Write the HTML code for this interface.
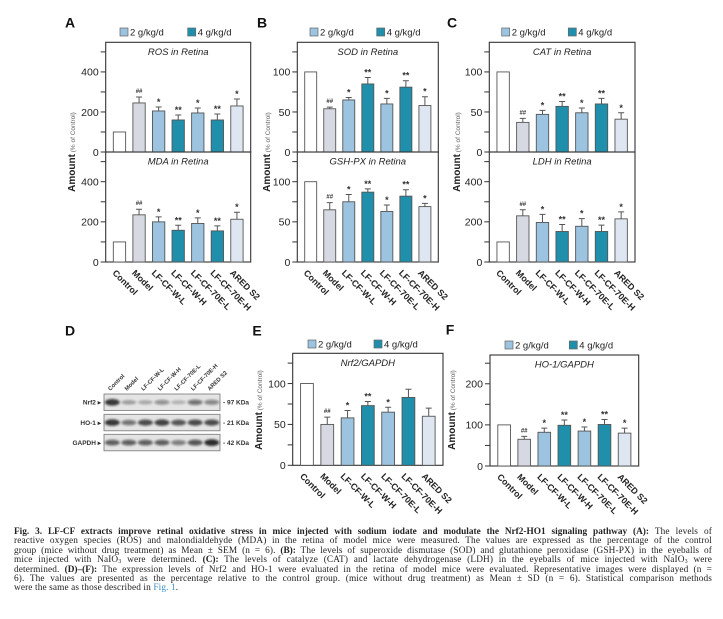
<!DOCTYPE html>
<html><head><meta charset="utf-8">
<style>
html,body{margin:0;padding:0;background:#fff;}
body{width:723px;height:619px;position:relative;overflow:hidden;font-family:"Liberation Sans",sans-serif;}
#cap{position:absolute;left:14px;top:528px;width:698px;font-family:"Liberation Serif",serif;font-size:9.3px;line-height:9.4px;letter-spacing:0.12px;color:#222;}
#cap div{text-align:justify;text-align-last:justify;white-space:nowrap;overflow:visible;}
#cap div.last{text-align-last:left;}
#cap b{font-weight:bold;letter-spacing:0;}
#cap sub{font-size:6px;line-height:0;vertical-align:-1px;}
.lnk{color:#3a8fc8;}
</style></head>
<body>
<svg id="fig" width="723" height="530" style="position:absolute;left:0;top:0" xmlns="http://www.w3.org/2000/svg">
<defs><filter id="blur" x="-30%" y="-100%" width="160%" height="300%"><feGaussianBlur stdDeviation="1.1"/></filter></defs>
</svg>
<div id="cap">
<div><b>Fig. 3. LF-CF extracts improve retinal oxidative stress in mice injected with sodium iodate and modulate the Nrf2-HO1 signaling pathway (A):</b> The levels of</div>
<div>reactive oxygen species (ROS) and malondialdehyde (MDA) in the retina of model mice were measured. The values are expressed as the percentage of the control</div>
<div>group (mice without drug treatment) as Mean ± SEM (n = 6). <b>(B):</b> The levels of superoxide dismutase (SOD) and glutathione peroxidase (GSH-PX) in the eyeballs of</div>
<div>mice injected with NaIO<sub>3</sub> were determined. <b>(C):</b> The levels of catalyze (CAT) and lactate dehydrogenase (LDH) in the eyeballs of mice injected with NaIO<sub>3</sub> were</div>
<div>determined. <b>(D)–(F):</b> The expression levels of Nrf2 and HO-1 were evaluated in the retina of model mice were evaluated. Representative images were displayed (n =</div>
<div>6). The values are presented as the percentage relative to the control group. (mice without drug treatment) as Mean ± SD (n = 6). Statistical comparison methods</div>
<div class="last">were the same as those described in <span class="lnk">Fig. 1</span>.</div>
</div>
<script>
const categories = ["Control","Model","LF-CF-W-L","LF-CF-W-H","LF-CF-70E-L","LF-CF-70E-H","ARED S2"];
const rosValues = [100,245,205,160,195,160,230];
const rosErrors = [0,30,20,25,25,30,35];
const mdaValues = [100,235,200,158,192,155,213];
const mdaErrors = [0,28,25,25,28,25,35];
const sodValues = [100,54,65,85,60,81,58];
const sodErrors = [0,2,3,8,7,8,11];
const gshValues = [100,65,75,87,63,82,69];
const gshErrors = [0,9,9,4,8,8,4];
const catValues = [100,37,47,57,49,60,41];
const catErrors = [0,5,5,6,6,7,8];
const ldhValues = [100,230,197,152,178,152,215];
const ldhErrors = [0,30,40,35,38,32,35];
const nrf2Values = [100,50,58,73,65,83,60];
const nrf2Errors = [0,9,9,5,6,10,10];
const ho1Values = [100,65,82,99,85,101,80];
const ho1Errors = [0,7,10,13,10,12,12];
const signsStd = ["","##","*","**","*","**","*"];
const signsNrf2 = ["","##","*","**","*","",""];
const ticksBig = [0,200,400];
const ticksSmall = [0,50,100];
const ticksHO = [0,100,200];
const nrf2Bands = [0.9,0.35,0.3,0.45,0.25,0.6,0.5];
const ho1Bands = [0.9,0.6,0.8,0.85,0.75,0.8,0.8];
const gapdhBands = [0.7,0.7,0.7,0.7,0.55,0.75,0.95];

const NS="http://www.w3.org/2000/svg";
const svg=document.getElementById('fig');
const fills=["#ffffff","#d6d9e2","#9cc3df","#1f8fab","#9cc3df","#1f8fab","#dde6f1"];
function mk(tag,attrs,parent){const e=document.createElementNS(NS,tag);for(const k in attrs)e.setAttribute(k,attrs[k]);(parent||svg).appendChild(e);return e;}
function txt(x,y,s,attrs,parent){const t=mk('text',Object.assign({x:x,y:y,'font-family':'Liberation Sans, sans-serif'},attrs),parent);t.textContent=s;return t;}

function panel(o){
  const g=mk('g',{});
  
  
  const w=o.x1-o.x0;
  const ys=v=>o.zero-(v/o.max)*(o.zero-o.top);
  const pad=0.095*w, step=(w-2*pad)/6, bw=0.085*w;
  const xc=i=>o.x0+pad+i*step;
  const box=mk('rect',{x:o.x0,y:o.top,width:w,height:o.zero-o.top,fill:'none',stroke:'#333','stroke-width':1.1},g);
  
  
  for(let v=0;v<=o.max;v+=o.minor){
    const tk=mk('line',{x1:o.x0-5,x2:o.x0,y1:ys(v),y2:ys(v),stroke:'#333','stroke-width':1},g);
    
    
  }
  o.ticks.forEach(v=>{
    const t=txt(o.x0-7,ys(v)+3.8,String(v),{'font-size':10.5,'text-anchor':'end',fill:'#222'},g);
    
    
  });
  const ti=txt((o.x0+o.x1)/2,o.top+12.5,o.title,{'font-size':9.5,'font-style':'italic','text-anchor':'middle',fill:'#222'},g);
  
  
  o.values.forEach((v,i)=>{
    const c=xc(i), yt=ys(v);
    const b=mk('rect',{x:c-bw/2,y:yt,width:bw,height:o.zero-yt,fill:fills[i],stroke:'#555','stroke-width':0.9},g);
    
    
    const e=o.errors[i];
    if(e>0){
      const ye=ys(v+e);
      const el=mk('path',{d:`M${c},${yt}V${ye}M${c-3},${ye}H${c+3}`,stroke:'#555','stroke-width':1,fill:'none'},g);
      
      
    }
    const s=o.signs[i];
    if(s){
      const ye=ys(v+e);
      const st=txt(c,ye-(s[0]=='#'?4:2),s,{'font-size':s[0]=='#'?6:9,'font-weight':'bold','text-anchor':'middle',fill:'#333'},g);
      
      
    }
    if(o.xlabels){
      const lx=c-3, ly=o.zero+7;
      const xl=txt(lx,ly,categories[i],{'font-size':8.8,'font-weight':'bold',fill:'#222',transform:`rotate(45 ${lx} ${ly})`,'dominant-baseline':'hanging'},g);
      
      
    }
  });
}
function ylabel(x,y){
  const t=mk('text',{x:0,y:0,transform:`translate(${x} ${y}) rotate(-90)`,'text-anchor':'middle','font-family':'Liberation Sans, sans-serif',fill:'#222'});
  
  
  const a=mk('tspan',{'font-size':10,'font-weight':'bold'},t);a.textContent='Amount';
  const b=mk('tspan',{'font-size':6.5,fill:'#666'},t);b.textContent=' (% of Control)';
}
function legend(x1,x2,y){
  const g=mk('g',{});
  
  
  [[x1,'#9cc3df','2 g/kg/d'],[x2,'#1f8fab','4 g/kg/d']].forEach(([x,c,l])=>{
    const r=mk('rect',{x:x,y:y-4,width:8,height:8,fill:c,stroke:'#666','stroke-width':0.7},g);
    
    
    const t=txt(x+10,y+3.5,l,{'font-size':9.5,fill:'#222'},g);
    
    
  });
}
function letter(x,y,s){
  const t=txt(x,y,s,{'font-size':14,'font-weight':'bold',fill:'#111','text-anchor':'middle','dominant-baseline':'middle'});
  
  
}

letter(70,24,'A');letter(262,24,'B');letter(452,24,'C');
letter(70,332,'D');letter(257,332,'E');letter(450,331,'F');
legend(120,187.7,32);legend(310,376.7,32);legend(501.7,568.3,32);
legend(308,374,344);legend(505,569.3,345);
ylabel(75,152);ylabel(270,152);ylabel(460,152);ylabel(262,410);ylabel(455,410);

panel({name:'ros-chart',x0:105.7,x1:250.7,top:42.3,zero:152,max:548,ticks:ticksBig,minor:100,title:'ROS in Retina',values:rosValues,errors:rosErrors,signs:signsStd});
panel({name:'mda-chart',x0:105.7,x1:250.7,top:152,zero:262,max:548,ticks:ticksBig,minor:100,title:'MDA in Retina',values:mdaValues,errors:mdaErrors,signs:signsStd,xlabels:true});
panel({name:'sod-chart',x0:297.3,x1:438.3,top:42.3,zero:152,max:137,ticks:ticksSmall,minor:25,title:'SOD in Retina',values:sodValues,errors:sodErrors,signs:signsStd});
panel({name:'gsh-px-chart',x0:297.3,x1:438.3,top:152,zero:262,max:137,ticks:ticksSmall,minor:25,title:'GSH-PX in Retina',values:gshValues,errors:gshErrors,signs:signsStd,xlabels:true});
panel({name:'cat-chart',x0:489.3,x1:635,top:42.3,zero:152,max:137,ticks:ticksSmall,minor:25,title:'CAT in Retina',values:catValues,errors:catErrors,signs:signsStd});
panel({name:'ldh-chart',x0:489.3,x1:635,top:152,zero:262,max:548,ticks:ticksBig,minor:100,title:'LDH in Retina',values:ldhValues,errors:ldhErrors,signs:signsStd,xlabels:true});
panel({name:'nrf2-chart',x0:292.7,x1:443,top:353.3,zero:465.3,max:137,ticks:ticksSmall,minor:25,title:'Nrf2/GAPDH',values:nrf2Values,errors:nrf2Errors,signs:signsNrf2,xlabels:true});
panel({name:'ho1-chart',x0:490,x1:638.7,top:355,zero:466,max:270,ticks:ticksHO,minor:50,title:'HO-1/GAPDH',values:ho1Values,errors:ho1Errors,signs:signsStd,xlabels:true});

// Western blot
const wb=mk('g',{});


const bx0=104,bx1=220,lw=(bx1-bx0)/7;
categories.forEach((c,i)=>{
  const lx=bx0+lw*(i+0.5)-2, ly=391;
  const t=txt(lx,ly,c,{'font-size':5.8,'font-weight':'bold',fill:'#333',transform:`rotate(-45 ${lx} ${ly})`},wb);
  
  
});
[['Nrf2',394,nrf2Bands,'97 KDa'],['HO-1',414.3,ho1Bands,'21 KDa'],['GAPDH',434.3,gapdhBands,'42 KDa']].forEach(([n,y,bands,kd])=>{
  const r=mk('rect',{x:bx0,y:y,width:bx1-bx0,height:16.5,fill:'#e4e4e4',stroke:'#777','stroke-width':0.8},wb);
  
  
  bands.forEach((v,i)=>{
    const cx=bx0+lw*(i+0.5);
    const e=mk('ellipse',{cx:cx,cy:y+8.3,rx:lw*0.45,ry:1.5+2*v,fill:'#111','fill-opacity':v*0.9,filter:'url(#blur)'},wb);
    
    
  });
  const l=txt(101,y+10.5,n+'  ▸',{'font-size':6.5,'font-weight':'bold',fill:'#333','text-anchor':'end'},wb);
  
  
  const k=txt(223,y+10.5,'- '+kd,{'font-size':6.5,'font-weight':'bold',fill:'#333'},wb);
  
  
});
</script>
</body></html>
